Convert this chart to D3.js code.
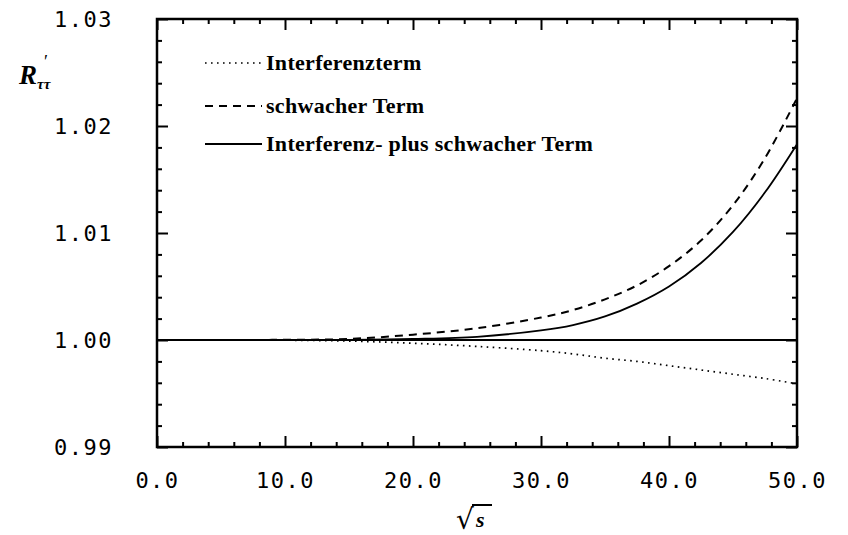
<!DOCTYPE html>
<html lang="de">
<head>
    <meta charset="UTF-8">
    <title>R tau tau</title>
    <style>
        body { margin: 0; background: #fff; }
        .tick text { font-family: "DejaVu Sans Mono", monospace; font-size: 22px; letter-spacing: 1.5px; fill: #000; }
        .legend text { font-family: "Liberation Serif", serif; font-weight: bold; font-size: 22px; letter-spacing: 0.3px; }
    </style>
</head>
<body></body>
<script src="https://cdn.jsdelivr.net/npm/d3@7"></script>
<script>
    let width = 848;
    let height = 535;

    // sqrt(s) values where the curves were read
    const sqrtS = [0, 5, 10, 15, 20, 25, 30, 32.5, 35, 37.5, 40, 42.5, 45, 47.5, 50];
    // R'_tautau for each term
    const interferenz = [1, 1, 0.99998, 0.9999, 0.9997, 0.9994, 0.9990, 0.9987, 0.9983, 0.9980, 0.9976, 0.9972, 0.9968, 0.9964, 0.9959];
    const schwach = [1, 1, 1.00002, 1.0001, 1.0005, 1.0011, 1.0021, 1.0028, 1.0038, 1.0051, 1.0069, 1.0093, 1.0126, 1.0170, 1.0226];
    const summe = [1, 1, 1, 1.00002, 1.0001, 1.0003, 1.0009, 1.0014, 1.0022, 1.0034, 1.0050, 1.0072, 1.0101, 1.0138, 1.0183];

    const xMajor = [0, 10, 20, 30, 40, 50];
    const yMajor = [0.99, 1.00, 1.01, 1.02, 1.03];
    const legendLabels = ["Interferenzterm", "schwacher Term", "Interferenz- plus schwacher Term"];

    let svg = d3.select("body")
                .append("svg")
                .attr("width", width)
                .attr("height", height)

    const x = d3.scaleLinear().domain([0, 50]).range([157, 797]);
    const y = d3.scaleLinear().domain([0.99, 1.03]).range([447, 19]);

    const xMinor = d3.range(0, 50.01, 2).filter(v => v % 10 !== 0);
    const yMinor = d3.range(0.99, 1.0301, 0.002).filter(v => Math.abs(v * 100 - Math.round(v * 100)) > 1e-6);

    // axes, ticks pointing inward
    svg.append("g").attr("transform", "translate(0,447)")
        .call(d3.axisBottom(x).tickValues(xMajor).tickSize(-11).tickPadding(25).tickFormat(d3.format(".1f")));
    svg.append("g").attr("transform", "translate(0,447)")
        .call(d3.axisBottom(x).tickValues(xMinor).tickSize(-5).tickFormat(""));
    svg.append("g").attr("transform", "translate(0,19)")
        .call(d3.axisTop(x).tickValues(xMajor).tickSize(-11).tickFormat(""));
    svg.append("g").attr("transform", "translate(0,19)")
        .call(d3.axisTop(x).tickValues(xMinor).tickSize(-5).tickFormat(""));
    svg.append("g").attr("transform", "translate(157,0)")
        .call(d3.axisLeft(y).tickValues(yMajor).tickSize(-11).tickPadding(44).tickFormat(d3.format(".2f")));
    svg.append("g").attr("transform", "translate(157,0)")
        .call(d3.axisLeft(y).tickValues(yMinor).tickSize(-5).tickFormat(""));
    svg.append("g").attr("transform", "translate(797,0)")
        .call(d3.axisRight(y).tickValues(yMajor).tickSize(-11).tickFormat(""));
    svg.append("g").attr("transform", "translate(797,0)")
        .call(d3.axisRight(y).tickValues(yMinor).tickSize(-5).tickFormat(""));

    svg.selectAll(".domain").remove();
    svg.selectAll(".tick line").attr("stroke", "#000").attr("stroke-width", 2);

    svg.append("rect")
        .attr("x", x(0)).attr("y", y(1.03))
        .attr("width", x(50) - x(0)).attr("height", y(0.99) - y(1.03))
        .attr("fill", "none").attr("stroke", "#000").attr("stroke-width", 2.5);

    // reference line at 1.00
    svg.append("line")
        .attr("x1", x(0)).attr("x2", x(50))
        .attr("y1", y(1)).attr("y2", y(1))
        .attr("stroke", "#000").attr("stroke-width", 2);

    const line = d3.line()
        .x((d, i) => x(sqrtS[i]))
        .y(d => y(d))
        .curve(d3.curveCatmullRom.alpha(0.5));

    const styles = [
        { data: interferenz, dash: "1.6,4.4", w: 1.7 },
        { data: schwach, dash: "8,6", w: 2 },
        { data: summe, dash: null, w: 1.8 }
    ];

    styles.forEach(s => {
        svg.append("path")
            .attr("d", line(s.data))
            .attr("fill", "none")
            .attr("stroke", "#000")
            .attr("stroke-width", s.w)
            .attr("stroke-dasharray", s.dash);
    });

    // legend
    const legend = svg.append("g").attr("class", "legend");
    const legY = [63, 106, 144];
    styles.forEach((s, i) => {
        legend.append("line")
            .attr("x1", 205).attr("x2", 262)
            .attr("y1", legY[i]).attr("y2", legY[i])
            .attr("stroke", "#000")
            .attr("stroke-width", s.w)
            .attr("stroke-dasharray", s.dash);
        legend.append("text")
            .attr("x", 266).attr("y", legY[i] + 7)
            .text(legendLabels[i]);
    });

    // y label R'_tautau
    const yl = svg.append("text")
        .attr("x", 19).attr("y", 84)
        .style("font-family", "Liberation Serif, serif")
        .style("font-weight", "bold")
        .style("font-style", "italic")
        .style("font-size", "27px");
    yl.append("tspan").text("R");
    yl.append("tspan").attr("dy", 5).style("font-size", "15px").text("ττ");
    svg.append("text")
        .attr("x", 44).attr("y", 68)
        .style("font-family", "Liberation Serif, serif")
        .style("font-size", "18px")
        .text("′");

    // x label sqrt(s)
    svg.append("text")
        .attr("x", 456).attr("y", 529)
        .style("font-family", "DejaVu Sans, sans-serif")
        .style("font-size", "28px")
        .text("√");
    svg.append("line")
        .attr("x1", 472).attr("x2", 492)
        .attr("y1", 505).attr("y2", 505)
        .attr("stroke", "#000").attr("stroke-width", 2);
    svg.append("text")
        .attr("x", 476).attr("y", 527)
        .style("font-family", "Liberation Serif, serif")
        .style("font-weight", "bold")
        .style("font-style", "italic")
        .style("font-size", "22px")
        .text("s");
</script>
</html>
